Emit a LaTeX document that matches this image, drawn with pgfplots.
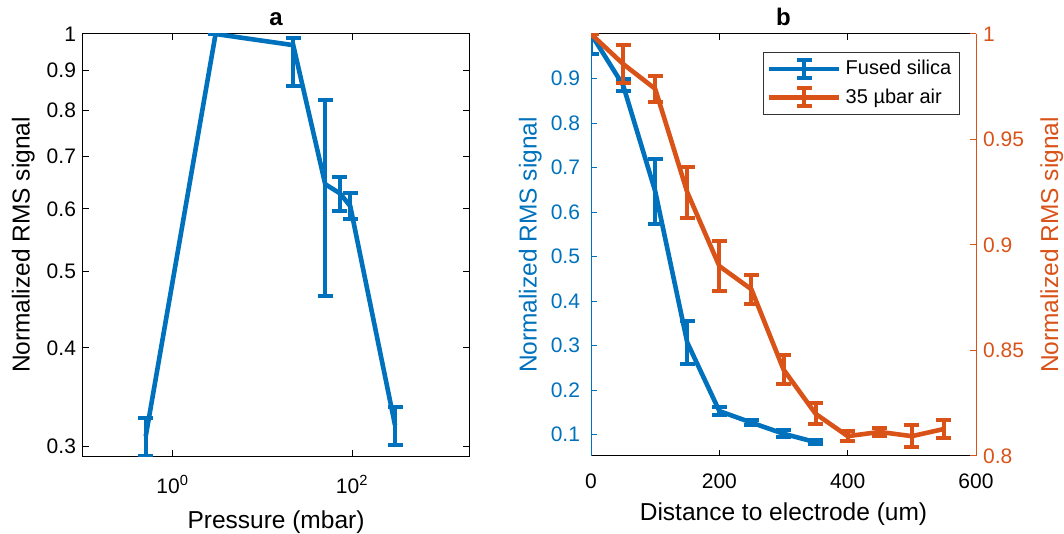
\documentclass[border=0pt]{standalone}
\usepackage{pgfplots}
\usepackage{pgfplotstable}
\pgfplotsset{compat=1.18}
\usepackage{fontspec}
\setmainfont{Liberation Sans}
\definecolor{mblue}{RGB}{0,114,189}
\definecolor{mred}{RGB}{217,83,25}

\pgfplotstableread{
x y ep em
0.5 0.309 0.017 0.017
3 1.0 0 0
22 0.968 0.02 0.109
50 0.645 0.18 0.18
73 0.628 0.031 0.031
95 0.605 0.023 0.023
300 0.319 0.0175 0.0175
}\dataA

\pgfplotstableread{
x y e
0 1.0 0.044
50 0.885 0.013
100 0.647 0.073
150 0.307 0.049
200 0.153 0.010
250 0.127 0.006
300 0.102 0.0075
350 0.083 0.004
}\dataBlue

\pgfplotstableread{
x y e
0 1.0 0.0
50 0.9858 0.0088
100 0.974 0.006
150 0.925 0.012
200 0.890 0.0118
250 0.879 0.007
300 0.841 0.0067
350 0.820 0.005
400 0.8094 0.0024
450 0.8114 0.002
500 0.8094 0.0052
550 0.8128 0.0042
}\dataRed

\pgfplotsset{
  common/.style={
    scale only axis,
    anchor=south west,
    height=211pt,
    tick align=inside,
    major tick length=3pt,
    minor tick length=1.5pt,
    axis line style={line width=0.5pt},
    every tick/.style={line width=0.5pt},
    tick label style={font=\fontsize{10.5}{12}\selectfont},
    label style={font=\fontsize{12.25}{14}\selectfont},
    every axis title shift=0pt,
    every axis title/.style={at={(axis description cs:0.5,1)}, anchor=base, yshift=4.25pt, font=\fontsize{12}{14}\selectfont\bfseries},
    /pgf/number format/assume math mode=true,
    /pgf/number format/fixed,
  },
  eb/.style={
    line width=2.3pt, mark=none,
    error bars/y dir=both, error bars/y explicit,
    error bars/error bar style={line width=2pt},
    error bars/error mark options={rotate=90, line width=2pt, mark size=3.75pt},
  },
  ebleg/.style={
    legend image code/.code={
      \draw[#1, line width=2.3pt] (0pt,0pt) -- (35pt,0pt);
      \draw[#1, line width=2pt] (17.5pt,-4.5pt) -- (17.5pt,4.5pt);
      \draw[#1, line width=2pt] (13.75pt,-4.5pt) -- (21.25pt,-4.5pt);
      \draw[#1, line width=2pt] (13.75pt,4.5pt) -- (21.25pt,4.5pt);
    }
  },
}

\begin{document}
\begin{tikzpicture}
\useasboundingbox (0,0) rectangle (532pt,267pt);

% Panel a
\begin{axis}[common,
  at={(41.5pt,39pt)}, width=193pt,
  xmode=log, ymode=log,
  xmin=0.1, xmax=2000, ymin=0.2917, ymax=1,
  xtick={1,100}, xticklabels={10\textsuperscript{0},10\textsuperscript{2}},
  minor xtick={},
  ytick={0.3,0.4,0.5,0.6,0.7,0.8,0.9,1},
  yticklabels={0.3,0.4,0.5,0.6,0.7,0.8,0.9,1},
  minor ytick={},
  xticklabel style={yshift=-6pt},
  title={a},
  xlabel={Pressure (mbar)},
  ylabel={Normalized RMS signal},
  xlabel style={at={(axis description cs:0.5,-0.171)}, anchor=base},
  ylabel style={at={(axis description cs:-0.155,0.5)}, anchor=center},
]
\addplot[mblue, eb] table[x=x, y=y, y error plus=ep, y error minus=em] {\dataA};
\end{axis}

% Panel b, left axis
\begin{axis}[common,
  at={(295.5pt,39pt)}, width=192.5pt,
  xmin=0, xmax=600, ymin=0.052, ymax=1,
  xtick={0,200,400,600},
  ytick={0.1,0.2,0.3,0.4,0.5,0.6,0.7,0.8,0.9},
  separate axis lines,
  every outer y axis line/.append style={mblue},
  ytick pos=left,
  y tick style={mblue},
  yticklabel style={mblue, xshift=-2pt},
  xticklabel style={yshift=-5.5pt},
  title={b},
  xlabel={Distance to electrode (um)},
  ylabel={Normalized RMS signal},
  xlabel style={at={(axis description cs:0.5,-0.154)}, anchor=base},
  ylabel style={at={(axis description cs:-0.158,0.5)}, anchor=center, mblue},
]
\addplot[mblue, eb] table[x=x, y=y, y error=e] {\dataBlue};
\end{axis}

% Panel b, right axis
\begin{axis}[common,
  at={(295.5pt,39pt)}, width=192.5pt,
  xmin=0, xmax=600, ymin=0.8, ymax=1,
  axis x line=none,
  axis y line*=right,
  y axis line style={mred, -},
  y tick style={mred},
  yticklabel style={mred},
  ytick={0.8,0.85,0.9,0.95,1},
  yticklabels={0.8,0.85,0.9,0.95,1},
  ylabel={Normalized RMS signal},
  ylabel style={at={(axis description cs:1.197,0.5)}, anchor=center, rotate=0, mred},
  legend style={at={(axis description cs:0.958,0.958)}, anchor=north east,
    font=\fontsize{10}{12}\selectfont, draw=black!80, line width=0.5pt,
    inner xsep=2pt, inner ysep=2pt, row sep=1.5pt},
  legend cell align=left,
]
\addlegendimage{ebleg=mblue}
\addlegendentry{Fused silica}
\addplot[mred, eb, ebleg=mred] table[x=x, y=y, y error=e] {\dataRed};
\addlegendentry{35 µbar air}
\end{axis}
\end{tikzpicture}
\end{document}
